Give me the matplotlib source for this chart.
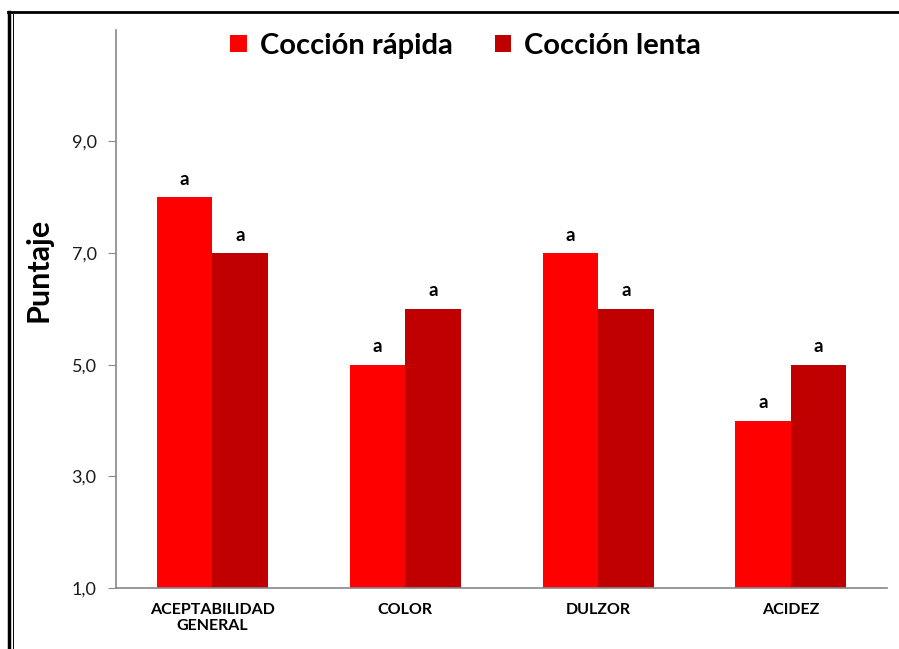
import numpy as np
import matplotlib.pyplot as plt
from matplotlib.lines import Line2D

plt.rcParams['font.family'] = ['Lato', 'DejaVu Sans']

categorias = ['ACEPTABILIDAD\nGENERAL', 'COLOR', 'DULZOR', 'ACIDEZ']
rapida = [8.0, 5.0, 7.0, 4.0]
lenta = [7.0, 6.0, 6.0, 5.0]
letras_rapida = ['a', 'a', 'a', 'a']
letras_lenta = ['a', 'a', 'a', 'a']
series = ['Cocción rápida', 'Cocción lenta']
colores = ['#FF0000', '#C00000']

fig = plt.figure(figsize=(8.99, 6.49), dpi=100)
ax = fig.add_axes([0.129, 0.094, 0.858, 0.860])

x = np.arange(len(categorias))
w = 0.288
base = 1.0
b1 = ax.bar(x - w / 2, np.array(rapida) - base, w, bottom=base, color=colores[0], label=series[0])
b2 = ax.bar(x + w / 2, np.array(lenta) - base, w, bottom=base, color=colores[1], label=series[1])

for xi, v, t in zip(x - w / 2, rapida, letras_rapida):
    ax.text(xi, v + 0.17, t, ha='center', va='bottom', fontsize=13.5, fontweight='bold')
for xi, v, t in zip(x + w / 2, lenta, letras_lenta):
    ax.text(xi, v + 0.17, t, ha='center', va='bottom', fontsize=13.5, fontweight='bold')

ax.set_xlim(-0.5, len(categorias) - 0.5)
ax.set_ylim(1, 11)
ax.set_yticks([1, 3, 5, 7, 9])
ax.set_yticklabels(['1,0', '3,0', '5,0', '7,0', '9,0'], fontsize=13, color='#1a1a1a')
ax.set_xticks(x)
ax.set_xticklabels(categorias, fontsize=11.5, fontweight='bold')
ax.tick_params(axis='x', length=0, pad=11)
ax.tick_params(axis='y', length=6, color='#888888', pad=8)

for s in ['top', 'right']:
    ax.spines[s].set_visible(False)
for s in ['left', 'bottom']:
    ax.spines[s].set_color('#888888')
    ax.spines[s].set_linewidth(1.2)

ax.set_ylabel('Puntaje', fontsize=22, fontweight='bold')
ax.yaxis.set_label_coords(-0.082, 0.57)

fig.legend(handles=[b1, b2], labels=series, loc='upper center', bbox_to_anchor=(0.518, 0.99),
           ncol=2, frameon=False, prop={'weight': 'bold', 'size': 21},
           handlelength=0.55, handleheight=0.55, handletextpad=0.45, columnspacing=1.45)

# marco exterior
fig.add_artist(Line2D([9 / 899, 9 / 899], [0, 1 - 12 / 649], color='black', lw=2.5, transform=fig.transFigure))
fig.add_artist(Line2D([12.5 / 899, 12.5 / 899], [0, 1 - 14 / 649], color='black', lw=0.7, transform=fig.transFigure))
fig.add_artist(Line2D([8 / 899, 1], [1 - 12 / 649, 1 - 12 / 649], color='black', lw=2, transform=fig.transFigure))

fig.savefig('out.png', dpi=100)
